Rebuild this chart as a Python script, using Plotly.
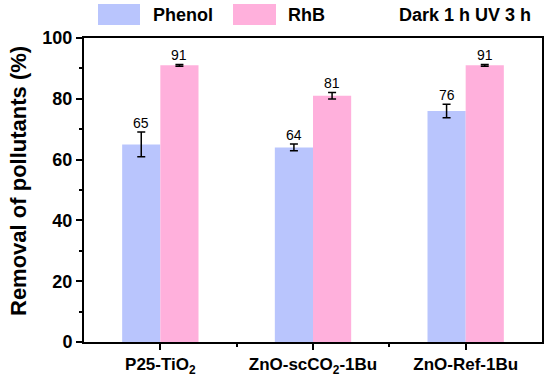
import plotly.graph_objects as go

categories = ["P25-TiO<sub>2</sub>", "ZnO-scCO<sub>2</sub>-1Bu", "ZnO-Ref-1Bu"]
phenol = [65, 64, 76]
phenol_err = [4.1, 1.1, 2.2]
rhb = [91, 81, 91]
rhb_err = [0.3, 1.1, 0.3]
yticks = [0, 20, 40, 60, 80, 100]

BLUE = "#B9C5FD"
PINK = "#FFB0DC"
FONT = "Liberation Sans, Arial, sans-serif"

xpos = list(range(len(categories)))

fig = go.Figure()
fig.add_trace(go.Bar(
    x=xpos, y=phenol, name="Phenol", marker=dict(color=BLUE, line=dict(width=0)),
    error_y=dict(type="data", array=phenol_err, color="black", thickness=1.5, width=4),
))
fig.add_trace(go.Bar(
    x=xpos, y=rhb, name="RhB", marker=dict(color=PINK, line=dict(width=0)),
    error_y=dict(type="data", array=rhb_err, color="black", thickness=1.5, width=4),
))

# value labels above the error bars
for i, (v, e) in enumerate(zip(phenol, phenol_err)):
    fig.add_annotation(x=i - 0.125, y=v + e, text=str(v), showarrow=False,
                       yanchor="bottom", yshift=-1, font=dict(family=FONT, size=14, color="black"))
for i, (v, e) in enumerate(zip(rhb, rhb_err)):
    fig.add_annotation(x=i + 0.125, y=v + e, text=str(v), showarrow=False,
                       yanchor="bottom", yshift=-1, font=dict(family=FONT, size=14, color="black"))

# custom legend on top
W, H = 550, 377
L, R, T, B = 84, 8, 38, 35
def px2paper_x(px):
    return (px - L) / (W - L - R)
def px2paper_y(py):
    return 1 - (py - T) / (H - T - B)

fig.add_shape(type="rect", xref="paper", yref="paper",
              x0=px2paper_x(98), x1=px2paper_x(140), y0=px2paper_y(25), y1=px2paper_y(4),
              fillcolor=BLUE, line=dict(width=0))
fig.add_shape(type="rect", xref="paper", yref="paper",
              x0=px2paper_x(233), x1=px2paper_x(276), y0=px2paper_y(25), y1=px2paper_y(4),
              fillcolor=PINK, line=dict(width=0))
fig.add_annotation(xref="paper", yref="paper", x=px2paper_x(151), y=px2paper_y(15),
                   text="<b>Phenol</b>", showarrow=False, xanchor="left", yanchor="middle",
                   font=dict(family=FONT, size=18, color="black"))
fig.add_annotation(xref="paper", yref="paper", x=px2paper_x(286), y=px2paper_y(15),
                   text="<b>RhB</b>", showarrow=False, xanchor="left", yanchor="middle",
                   font=dict(family=FONT, size=18, color="black"))
fig.add_annotation(xref="paper", yref="paper", x=px2paper_x(533), y=px2paper_y(15),
                   text="<b>Dark 1 h UV 3 h</b>", showarrow=False, xanchor="right", yanchor="middle",
                   font=dict(family=FONT, size=18, color="black"))

# y axis title as rotated annotation
fig.add_annotation(xref="paper", yref="paper", x=px2paper_x(18), y=px2paper_y(181),
                   text="<b>Removal of pollutants (%)</b>", showarrow=False, textangle=-90,
                   xanchor="center", yanchor="middle",
                   font=dict(family=FONT, size=22, color="black"))

fig.update_layout(
    width=W, height=H,
    margin=dict(l=L, r=R, t=T, b=B),
    paper_bgcolor="white", plot_bgcolor="white",
    barmode="group", bargap=0.5, bargroupgap=0,
    showlegend=False,
    font=dict(family=FONT, color="black"),
)
fig.update_xaxes(
    range=[-0.5, 2.5], tickmode="array", tickvals=xpos,
    ticktext=[f"<b>{c}</b>" for c in categories],
    tickfont=dict(family=FONT, size=17, color="black"),
    ticks="outside", ticklen=6, tickwidth=2, tickcolor="black",
    showline=True, linecolor="black", linewidth=2, mirror=True,
    showgrid=False, zeroline=False, automargin=False,
    minor=dict(tickmode="array", tickvals=[0.5, 1.5], ticks="outside", ticklen=3, tickwidth=2, tickcolor="black"),
)
fig.update_yaxes(
    range=[0, 100], tickmode="array", tickvals=yticks,
    ticktext=[f"<b>{t}</b>" for t in yticks],
    tickfont=dict(family=FONT, size=18, color="black"),
    ticks="outside", ticklen=6, tickwidth=2, tickcolor="black",
    showline=True, linecolor="black", linewidth=2, mirror=True,
    showgrid=False, zeroline=False, automargin=False,
    minor=dict(tickmode="array", tickvals=[10, 30, 50, 70, 90], ticks="outside", ticklen=3, tickwidth=2, tickcolor="black"),
)

fig.write_html("out.html", config={"displayModeBar": False},
               post_script="document.body.style.margin='0';document.body.style.padding='0';")
